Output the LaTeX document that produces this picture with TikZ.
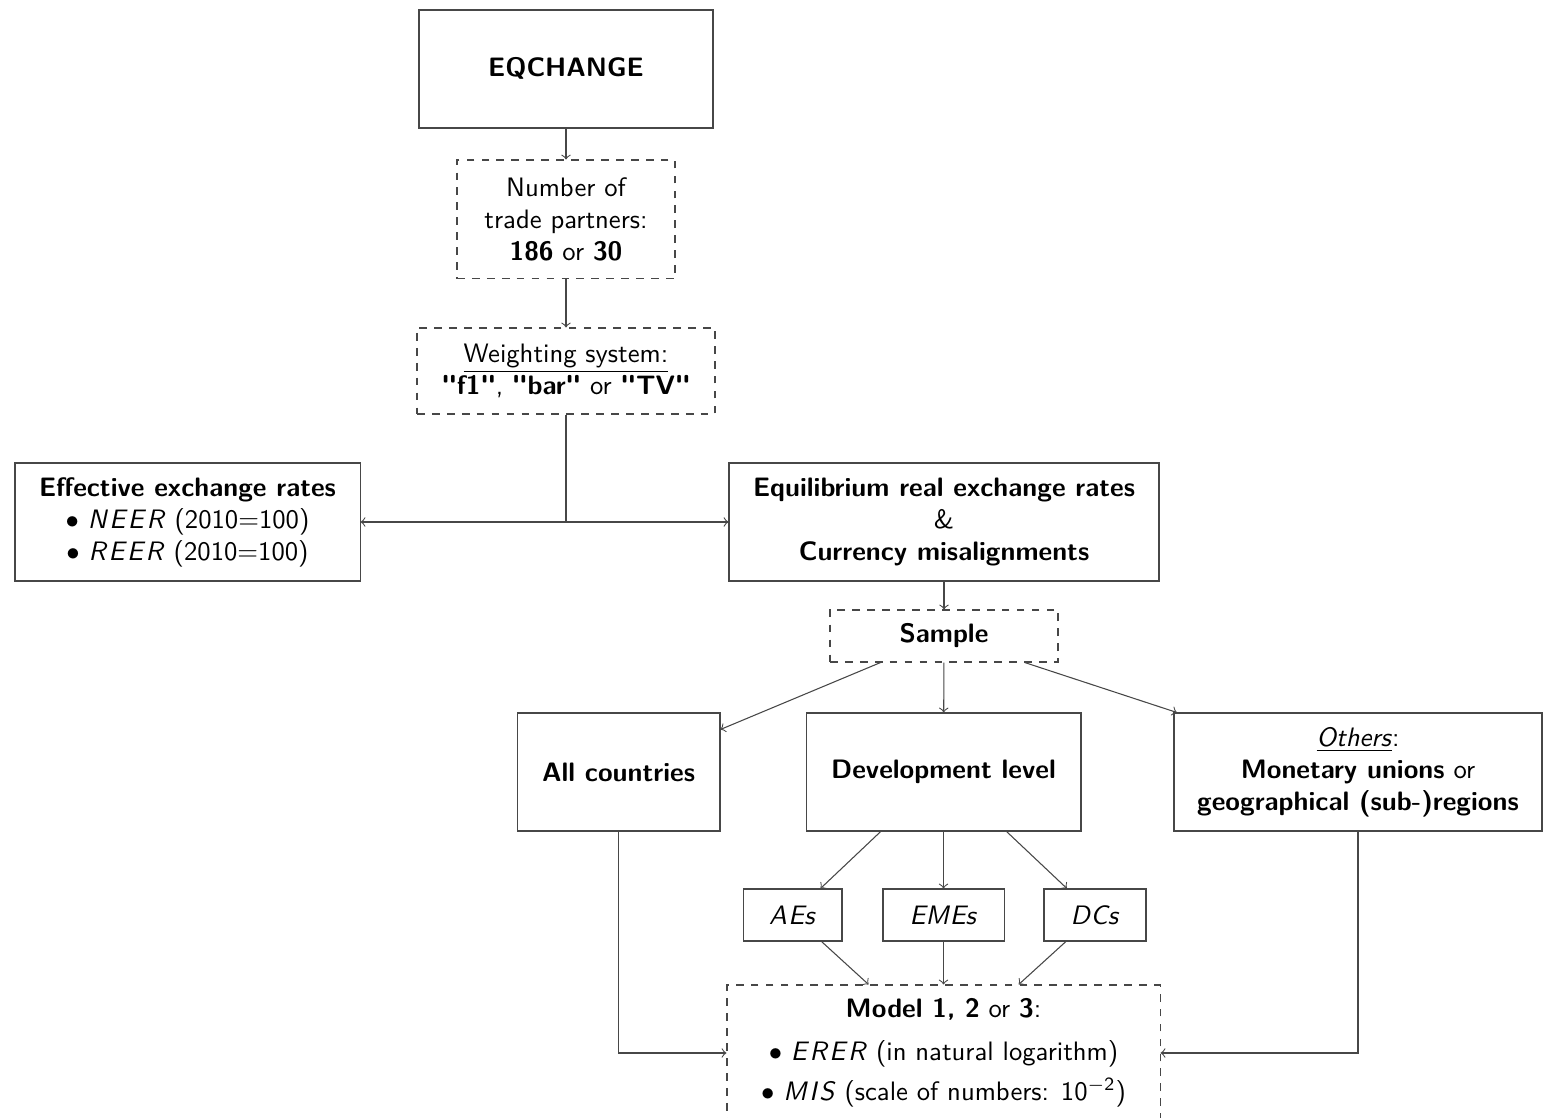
\documentclass[tikz,border=0pt]{standalone}
\usepackage{fontspec}
\usetikzlibrary{calc}
\renewcommand{\familydefault}{\sfdefault}
\newcommand{\spit}[1]{\textit{#1}}
\newcommand{\qt}[1]{\textbf{\textquotedbl#1\textquotedbl}}
\colorlet{linecol}{black!72}
\begin{document}
\begin{tikzpicture}[x=0.375pt,y=-0.375pt,
  box/.style={draw=linecol, line width=0.4pt, align=center, inner sep=0pt, font=\normalsize},
  dbox/.style={box, dash pattern=on 2.9pt off 2.7pt},
  arr/.style={->, draw=linecol, line width=0.4pt}]
\useasboundingbox (0,0) rectangle (1543,1118);
\node[box, minimum width=110.25pt, minimum height=44.25pt, font=\normalsize\bfseries] (eq) at (566,69) {\raisebox{1.2pt}{EQCHANGE}};
\node[dbox, minimum width=81.75pt, minimum height=44.6pt] (num) at (566,219.5) {Number of\\trade partners:\\\textbf{186} or \textbf{30}};
\node[dbox, minimum width=111.75pt, minimum height=32.25pt] (wt) at (566,371) {\underline{Weighting system:}\\\qt{f1}, \qt{bar} or \qt{TV}};
\node[box, minimum width=129.4pt, minimum height=44.25pt] (eer) at (187.5,522) {\textbf{Effective exchange rates}\\$\bullet$ \spit{N\kern1pt E\kern1pt E\kern1pt R} (2010=100)\\$\bullet$ \spit{R\kern1pt E\kern1pt E\kern1pt R} (2010=100)};
\node[box, minimum width=161.25pt, minimum height=44.25pt] (erer) at (944,522) {\textbf{Equilibrium real exchange rates}\\\&\\\textbf{Currency misalignments}};
\node[dbox, minimum width=85.5pt, minimum height=19.5pt] (smp) at (944,636) {\textbf{Sample}};
\node[box, minimum width=76.1pt, minimum height=44.25pt] (all) at (618.5,772) {\textbf{All countries}};
\node[box, minimum width=103.1pt, minimum height=44.25pt] (dev) at (943.5,772) {\textbf{Development level}};
\node[box, minimum width=138pt, minimum height=44.25pt] (oth) at (1358,772) {\underline{\textit{Others}}:\\\textbf{Monetary unions} or\\\textbf{geographical (sub-)regions}};
\node[box, minimum width=37.1pt, minimum height=19.5pt] (ae) at (792.5,915) {\spit{A\kern0.6pt Es}};
\node[box, minimum width=45.4pt, minimum height=19.5pt] (eme) at (943.5,915) {\spit{EM\kern0.3pt Es}};
\node[box, minimum width=38.25pt, minimum height=19.5pt] (dc) at (1095,915) {\spit{D\kern0.3pt Cs}};
\node[dbox, minimum width=162.4pt, minimum height=51pt] (model) at (943.5,1053) {\textbf{Model 1, 2} or \textbf{3}:\\[4pt]$\bullet$ \spit{E\kern1pt R\kern1pt E\kern1pt R} (in natural logarithm)\\[3pt]$\bullet$ \spit{M\kern1pt I\kern1pt S} (scale of numbers: 10\textsuperscript{$-$2})};
\coordinate (split) at (wt.south |- eer.east);
\draw[arr] (eq) -- (num);
\draw[arr] (num) -- (wt);
\draw[draw=linecol, line width=0.4pt] (wt.south) -- (split);
\draw[arr] (split) -- (eer.east);
\draw[arr] (split) -- (erer.west);
\draw[arr] (erer) -- (smp);
\draw[arr] (smp) -- (all);
\draw[arr] (smp) -- (dev);
\draw[arr] (smp) -- (oth);
\draw[arr] (dev) -- (ae);
\draw[arr] (dev) -- (eme);
\draw[arr] (dev) -- (dc);
\draw[arr] (ae) -- (model);
\draw[arr] (eme) -- (model);
\draw[arr] (dc) -- (model);
\draw[arr] (all.south) |- (model.west);
\draw[arr] (oth.south) |- (model.east);
\end{tikzpicture}
\end{document}
